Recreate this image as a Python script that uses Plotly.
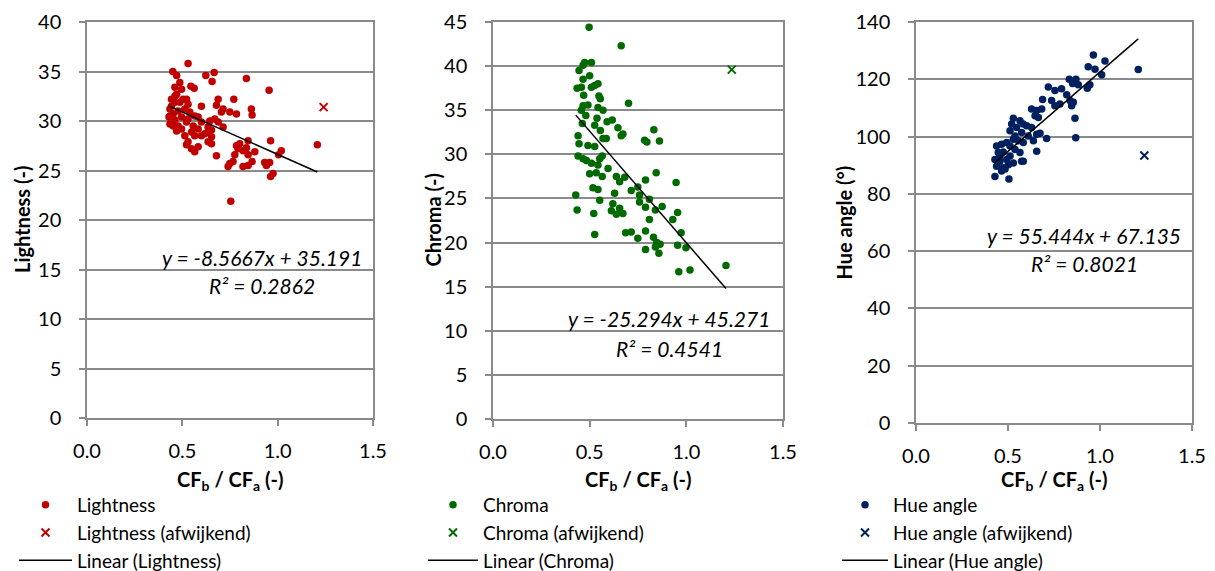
import plotly.graph_objects as go

# ---------------- data ----------------
light_x = [0.53, 0.45, 0.47, 0.487, 0.623, 0.667, 0.656, 0.836, 0.955, 0.545, 0.562, 0.461, 0.496, 0.47, 0.443,
           0.522, 0.688, 0.77, 0.679, 0.714, 0.749, 0.784, 0.862, 0.866, 0.60, 0.435, 0.452, 0.478, 0.513, 0.539,
           0.43, 0.461, 0.496, 0.53, 0.565, 0.583, 0.435, 0.478, 0.522, 0.557, 0.60, 0.644, 0.67, 0.688, 0.635,
           0.583, 0.548, 0.513, 0.653, 0.714, 0.618, 0.653, 0.53, 0.548, 0.565, 0.583, 0.635, 0.653, 0.679, 0.784,
           0.801, 0.845, 0.792, 0.819, 0.836, 0.88, 0.963, 1.019, 1.005, 1.208, 0.749, 0.74, 0.766, 0.818, 0.845,
           0.866, 0.932, 0.958, 0.941, 0.976, 0.963, 0.754, 0.461, 0.487, 0.53, 0.452, 0.496, 0.47, 0.565, 0.60,
           0.522, 0.635, 0.845, 0.775, 0.435, 0.443, 0.461, 0.504, 0.705]
light_y = [35.8, 35.0, 34.6, 33.9, 34.6, 34.9, 34.0, 34.3, 33.1, 33.5, 33.3, 33.4, 33.2, 32.7, 32.2,
           32.2, 32.2, 32.2, 31.6, 31.2, 30.9, 30.7, 31.2, 30.6, 31.5, 31.2, 30.7, 31.0, 31.2, 30.9,
           30.4, 30.1, 30.4, 30.2, 30.5, 30.4, 29.7, 29.5, 29.9, 29.5, 29.9, 30.0, 30.2, 29.9, 29.4,
           29.2, 28.9, 28.5, 29.1, 29.4, 28.7, 28.4, 27.9, 27.2, 26.9, 27.4, 27.9, 27.7, 26.5, 27.5,
           27.7, 28.0, 27.2, 27.0, 27.3, 26.9, 28.0, 27.0, 26.6, 27.6, 25.7, 25.4, 25.9, 25.4, 25.5,
           25.9, 25.8, 25.8, 25.5, 24.7, 24.4, 21.9, 31.9, 31.9, 31.7, 29.5, 29.2, 29.0, 28.5, 28.5,
           27.6, 28.9, 26.6, 26.6, 30.5, 31.5, 32.5, 32.2, 30.9]
light_out_x = [1.241]
light_out_y = [31.4]
light_fit = (-8.5667, 35.191, 0.2862)

chroma_x = [0.497, 0.663, 0.474, 0.509, 0.466, 0.445, 0.50, 0.466, 0.435, 0.457, 0.509, 0.543, 0.526, 0.469,
            0.548, 0.555, 0.701, 0.466, 0.491, 0.457, 0.543, 0.569, 0.48, 0.538, 0.59, 0.617, 0.462, 0.526,
            0.555, 0.646, 0.663, 0.672, 0.832, 0.784, 0.796, 0.861, 0.44, 0.445, 0.491, 0.526, 0.569, 0.586,
            0.44, 0.466, 0.483, 0.509, 0.552, 0.565, 0.543, 0.595, 0.50, 0.534, 0.565, 0.638, 0.655, 0.681,
            0.844, 0.789, 0.947, 0.517, 0.543, 0.428, 0.629, 0.715, 0.749, 0.758, 0.552, 0.62, 0.655, 0.612,
            0.638, 0.672, 0.435, 0.521, 0.758, 0.789, 0.809, 0.84, 0.875, 0.809, 0.93, 0.955, 0.686, 0.715,
            0.749, 0.789, 0.83, 0.847, 0.864, 0.84, 0.789, 0.858, 0.526, 0.973, 0.955, 0.998, 0.961, 1.019,
            1.205]
chroma_y = [44.4, 42.3, 40.4, 40.4, 40.1, 39.5, 38.9, 38.5, 37.5, 37.6, 37.6, 38.0, 37.8, 36.7,
            36.6, 36.3, 35.8, 35.5, 35.6, 35.0, 35.3, 35.0, 34.4, 34.1, 33.7, 33.9, 33.5, 33.3,
            32.7, 33.0, 32.1, 32.3, 32.8, 31.6, 31.4, 31.5, 32.1, 31.2, 31.0, 30.9, 31.8, 31.8,
            29.8, 29.5, 29.3, 29.0, 29.5, 29.8, 28.8, 28.4, 27.8, 27.9, 27.5, 27.5, 26.9, 27.4,
            27.9, 27.1, 26.8, 26.2, 26.0, 25.4, 25.6, 25.9, 26.3, 25.4, 24.8, 24.4, 23.9, 23.6,
            23.2, 23.3, 23.7, 23.3, 24.6, 24.0, 24.9, 23.7, 24.1, 22.6, 22.6, 23.4, 21.1, 21.2,
            20.5, 21.3, 20.6, 20.0, 19.8, 19.5, 19.2, 18.8, 20.9, 21.1, 19.7, 19.4, 16.7, 16.9,
            17.4]
chroma_out_x = [1.235]
chroma_out_y = [39.6]
chroma_fit = (-25.294, 45.271, 0.4541)

hue_x = [0.964, 1.027, 0.936, 0.973, 1.009, 1.208, 0.833, 0.869, 0.851, 0.882, 0.945, 0.931, 0.719, 0.755,
         0.791, 0.819, 0.837, 0.688, 0.737, 0.755, 0.782, 0.855, 0.846, 0.628, 0.656, 0.683, 0.647, 0.665,
         0.864, 0.529, 0.565, 0.583, 0.52, 0.547, 0.601, 0.628, 0.511, 0.574, 0.656, 0.674, 0.538, 0.529,
         0.61, 0.71, 0.868, 0.438, 0.465, 0.493, 0.556, 0.583, 0.638, 0.511, 0.538, 0.656, 0.447, 0.474,
         0.565, 0.574, 0.429, 0.456, 0.493, 0.511, 0.438, 0.474, 0.502, 0.529, 0.583, 0.429, 0.505, 0.465,
         0.484, 0.456]
hue_y = [128.5, 126.4, 124.4, 123.5, 121.6, 123.4, 120.0, 120.0, 118.5, 118.1, 118.1, 116.9, 117.3, 116.1,
         116.7, 114.6, 112.6, 112.9, 112.6, 110.8, 111.4, 112.0, 110.8, 109.6, 109.1, 109.6, 107.3, 106.7,
         106.4, 106.4, 105.5, 104.4, 104.4, 103.2, 103.8, 103.2, 102.0, 101.4, 100.8, 101.2, 100.2, 99.1,
         100.2, 99.3, 99.6, 96.7, 97.3, 97.9, 98.5, 97.9, 98.5, 96.7, 95.5, 94.9, 94.4, 94.6,
         94.4, 91.4, 92.0, 91.4, 92.0, 93.2, 89.6, 89.1, 90.2, 90.8, 91.4, 86.1, 85.2, 88.0,
         88.7, 93.2]
hue_out_x = [1.241]
hue_out_y = [93.4]
hue_fit = (55.444, 67.135, 0.8021)

x_ticks = [0.0, 0.5, 1.0, 1.5]

# ---------------- style / layout ----------------
W, H = 1215, 571
FONT = "Lato"
GRID = "#8a8a8a"
TXT = "#000000"
TICK_SIZE = 20
TITLE_SIZE = 20
LEG_SIZE = 19
EQ_SIZE = 21

panels = [
    dict(name="Lightness", x=light_x, y=light_y, ox=light_out_x, oy=light_out_y, fit=light_fit,
         color="#C00000", ytitle="Lightness (-)", yrange=[0, 40], dtick=5,
         px=(87, 373), py=(22, 418), legend="legend", leg_x=14, leg_w=53,
         eq=(262, 257, 285), ytx=22),
    dict(name="Chroma", x=chroma_x, y=chroma_y, ox=chroma_out_x, oy=chroma_out_y, fit=chroma_fit,
         color="#006A00", ytitle="Chroma (-)", yrange=[0, 45], dtick=5,
         px=(493, 783), py=(22, 419), legend="legend2", leg_x=423, leg_w=50,
         eq=(669, 318, 348), ytx=432),
    dict(name="Hue angle", x=hue_x, y=hue_y, ox=hue_out_x, oy=hue_out_y, fit=hue_fit,
         color="#002060", ytitle="Hue angle (°)", yrange=[0, 140], dtick=20,
         px=(916, 1192), py=(22, 423), legend="legend3", leg_x=837, leg_w=46,
         eq=(1084, 235, 263), ytx=843),
]

fig = go.Figure()
layout = dict(width=W, height=H, margin=dict(l=0, r=0, t=0, b=0, autoexpand=False),
              paper_bgcolor="white", plot_bgcolor="white",
              font=dict(family=FONT, size=TICK_SIZE, color=TXT))
annotations = []

for i, p in enumerate(panels, start=1):
    xa = "x" if i == 1 else f"x{i}"
    ya = "y" if i == 1 else f"y{i}"
    slope, icpt, r2 = p["fit"]
    xmin, xmax = min(p["x"]), max(p["x"])

    fig.add_trace(go.Scatter(x=p["x"], y=p["y"], mode="markers", name=p["name"],
                             marker=dict(color=p["color"], size=7.5, symbol="circle"),
                             xaxis=xa, yaxis=ya, legend=p["legend"]))
    fig.add_trace(go.Scatter(x=p["ox"], y=p["oy"], mode="markers", name=f"{p['name']} (afwijkend)",
                             marker=dict(color=p["color"], size=8, symbol="x-thin",
                                         line=dict(color=p["color"], width=2)),
                             xaxis=xa, yaxis=ya, legend=p["legend"]))
    fig.add_trace(go.Scatter(x=[xmin, xmax], y=[slope * xmin + icpt, slope * xmax + icpt],
                             mode="lines", name=f"Linear ({p['name']})",
                             line=dict(color="black", width=1.5),
                             xaxis=xa, yaxis=ya, legend=p["legend"]))

    x0, x1 = p["px"]
    ytop, ybot = p["py"]
    axis_common = dict(showline=True, linecolor=GRID, linewidth=1.5, mirror=True,
                       ticks="outside", tickcolor=GRID, ticklen=6, tickwidth=1.5,
                       zeroline=False, automargin=False,
                       tickfont=dict(family=FONT, size=TICK_SIZE, color=TXT))
    layout[f"xaxis{'' if i == 1 else i}"] = dict(
        domain=[x0 / W, x1 / W], anchor=ya, range=[0, 1.5], tickvals=x_ticks,
        ticktext=[f"{v:.1f}" for v in x_ticks], showgrid=False,
        ticklabelstandoff=8, **axis_common)
    layout[f"yaxis{'' if i == 1 else i}"] = dict(
        domain=[1 - ybot / H, 1 - ytop / H], anchor=xa, range=p["yrange"], dtick=p["dtick"],
        showgrid=True, gridcolor=GRID, gridwidth=1.5, ticklabelstandoff=14,
        **axis_common)
    layout[p["legend"]] = dict(x=p["leg_x"] / W, xanchor="left", y=1 - 486 / H, yanchor="top",
                               bgcolor="rgba(0,0,0,0)", itemwidth=p["leg_w"],
                               font=dict(family=FONT, size=LEG_SIZE, color=TXT), tracegroupgap=0)

    # axis titles
    annotations.append(dict(
        text="<b>CF<sub>b</sub> / CF<sub>a</sub> (-)</b>",
        x=(x0 + x1) / 2 / W, y=1 - 480 / H, xref="paper", yref="paper", showarrow=False,
        xanchor="center", yanchor="middle", font=dict(family=FONT, size=TITLE_SIZE, color=TXT)))
    annotations.append(dict(
        text=f"<b>{p['ytitle']}</b>", textangle=-90,
        x=p["ytx"] / W, y=1 - (ytop + ybot) / 2 / H, xref="paper", yref="paper", showarrow=False,
        xanchor="center", yanchor="middle", font=dict(family=FONT, size=TITLE_SIZE, color=TXT)))

    # trendline equation
    ex, ey1, ey2 = p["eq"]
    annotations.append(dict(
        text=f"<i>y = {slope:.4f}x + {icpt:.3f}</i>" if abs(slope) < 10 else
             f"<i>y = {slope:.3f}x + {icpt:.3f}</i>",
        x=ex / W, y=1 - ey1 / H, xref="paper", yref="paper", showarrow=False,
        xanchor="center", yanchor="middle", font=dict(family=FONT, size=EQ_SIZE, color=TXT)))
    annotations.append(dict(
        text=f"<i>R² = {r2:.4f}</i>",
        x=ex / W, y=1 - ey2 / H, xref="paper", yref="paper", showarrow=False,
        xanchor="center", yanchor="middle", font=dict(family=FONT, size=EQ_SIZE, color=TXT)))

layout["annotations"] = annotations
fig.update_layout(**layout)
fig.write_html("out.html", config={"displayModeBar": False},
               post_script="document.body.style.margin='0px';document.body.style.overflow='hidden';")
